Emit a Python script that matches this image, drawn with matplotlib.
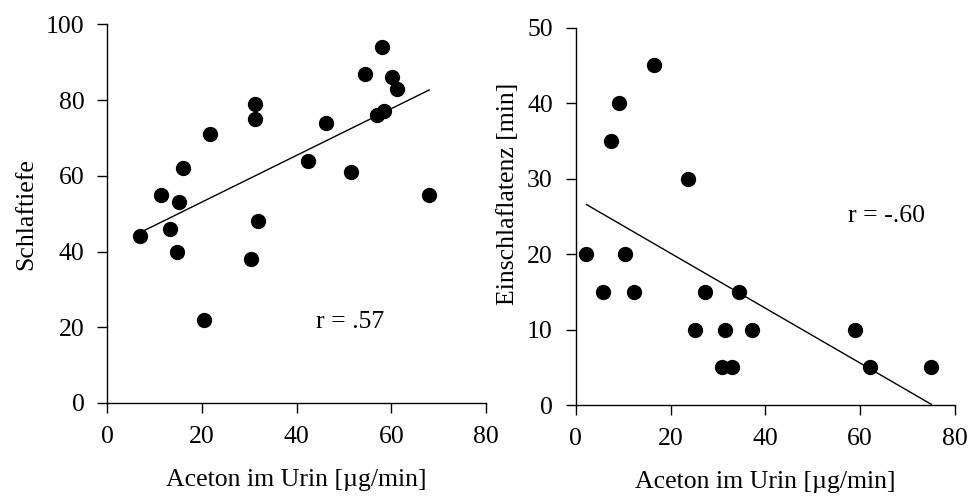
import matplotlib

matplotlib.use("Agg")
import matplotlib.pyplot as plt
import numpy as np

# Schlaftiefe vs. Aceton
aceton_tiefe = [6.9, 11.4, 13.2, 15.1, 15.9, 21.8, 31.1, 31.3, 31.8, 42.5,
                46.1, 51.5, 54.4, 58.0, 57.0, 58.4, 60.1, 61.1, 68.0,
                14.7, 30.3, 20.4]
schlaftiefe = [44, 55, 46, 53, 62, 71, 79, 75, 48, 64,
               74, 61, 87, 94, 76, 77, 86, 83, 55,
               40, 38, 22]

# Einschlaflatenz vs. Aceton
aceton_latenz = [16.5, 9.1, 7.5, 23.6, 2.25, 10.4, 5.8, 12.3, 27.2, 34.4,
                 25.2, 31.5, 37.1, 58.9, 30.8, 33.0, 62.1, 75.0]
latenz = [45, 40, 35, 30, 20, 20, 15, 15, 15, 15,
          10, 10, 10, 10, 5, 5, 5, 5]

r_labels = ["r = .57", "r = -.60"]

plt.rcParams["font.family"] = ["Liberation Serif", "DejaVu Serif"]
plt.rcParams["font.size"] = 18.5

fig = plt.figure(figsize=(9.71, 4.98), dpi=100)
ax1 = fig.add_axes([0.1105, 0.1908, 0.39, 0.7604])
ax2 = fig.add_axes([0.593, 0.1867, 0.3905, 0.7577])

panels = [
    (ax1, aceton_tiefe, schlaftiefe, (0, 100), 20, "Schlaftiefe", 0.5, r_labels[0], (51.3, 21.4)),
    (ax2, aceton_latenz, latenz, (0, 50), 10, "Einschlaflatenz [min]", 0.56, r_labels[1], (65.5, 25.0)),
]

for ax, x, y, ylim, ystep, ylabel, ylab_y, rtxt, rpos in panels:
    x = np.asarray(x)
    y = np.asarray(y)
    ax.plot(x, y, "o", color="black", ms=10, clip_on=False, zorder=3)
    # least-squares line over the data range
    slope, intercept = np.polyfit(x, y, 1)
    xl = np.array([x.min(), x.max()])
    ax.plot(xl, slope * xl + intercept, color="black", lw=1.0)
    ax.set_xlim(0, 80)
    ax.set_ylim(*ylim)
    ax.set_xticks(np.arange(0, 81, 20))
    ax.set_yticks(np.arange(ylim[0], ylim[1] + 1, ystep))
    for s in ("top", "right"):
        ax.spines[s].set_visible(False)
    for s in ("left", "bottom"):
        ax.spines[s].set_linewidth(1.0)
    ax.tick_params(direction="out", length=7.5, width=1.0, pad=9)
    ax.set_xlabel("Aceton im Urin [µg/min]", labelpad=15)
    ax.set_ylabel(ylabel, labelpad=6)
    ax.yaxis.label.set_y(ylab_y)
    ax.text(rpos[0], rpos[1], rtxt, ha="center", va="center")

fig.savefig("out.png", dpi=100)
